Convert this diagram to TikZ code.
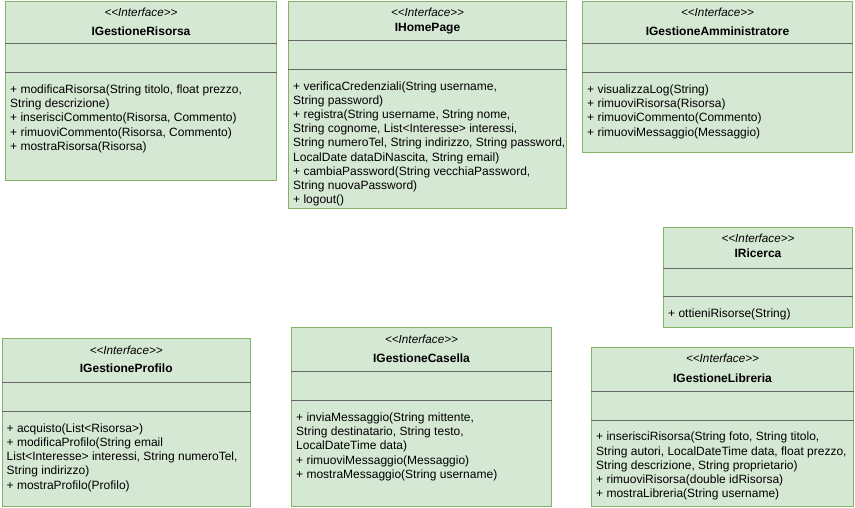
\documentclass[tikz,border=0pt]{standalone}
\usepackage{fontspec}
\setmainfont{Liberation Sans}[Ligatures=TeXOff]
\definecolor{boxfill}{HTML}{D5E8D4}
\definecolor{boxline}{HTML}{82B366}
\definecolor{sepcol}{HTML}{666666}
\begin{document}
\begin{tikzpicture}[x=1pt,y=-1pt,
  umlbox/.style={draw=boxline, fill=boxfill, line width=1pt, inner sep=0pt, anchor=north west},
  sepline/.style={draw=sepcol, line width=1pt},
  stereo/.style={font=\fontsize{11.7}{14}\selectfont\itshape, anchor=base, inner sep=0pt},
  ttl/.style={font=\fontsize{12}{14}\selectfont\bfseries, anchor=base, inner sep=0pt},
  methods/.style={font=\fontsize{12}{14.2}\selectfont, align=left, anchor=north west, inner sep=0pt}]
\useasboundingbox (0,0) rectangle (855,508);

% IGestioneRisorsa
\node[umlbox, minimum width=271pt, minimum height=179pt] (r) at (5,1) {};
\draw[sepline] ([yshift=-43pt]r.north west) -- ([yshift=-43pt]r.north east);
\draw[sepline] ([yshift=-71.7pt]r.north west) -- ([yshift=-71.7pt]r.north east);
\node[stereo] (rs) at ([yshift=-16pt]r.north) {<\kern0pt<Interface>\kern0pt>};
\node[ttl] (rt) at ([yshift=-35pt]r.north) {IGestioneRisorsa};
\node[methods] (rm) at ([xshift=5pt,yshift=-82.3pt]r.north west) {\strut+ modificaRisorsa(String titolo, float prezzo,\\String descrizione)\\+ inserisciCommento(Risorsa, Commento)\\+ rimuoviCommento(Risorsa, Commento)\\+ mostraRisorsa(Risorsa)};

% IHomePage
\node[umlbox, minimum width=278pt, minimum height=207pt] (hp) at (288,1) {};
\draw[sepline] ([yshift=-40pt]hp.north west) -- ([yshift=-40pt]hp.north east);
\draw[sepline] ([yshift=-68.3pt]hp.north west) -- ([yshift=-68.3pt]hp.north east);
\node[stereo] (hps) at ([yshift=-16pt]hp.north) {<\kern0pt<Interface>\kern0pt>};
\node[ttl] (hpt) at ([yshift=-31pt]hp.north) {IHomePage};
\node[methods] (hpm) at ([xshift=5pt,yshift=-79pt]hp.north west) {\strut+ verificaCredenziali(String username,\\String password)\\+ registra(String username, String nome,\\String cognome, List<Interesse> interessi,\\String numeroTel, String indirizzo, String password,\\LocalDate dataDiNascita, String email)\\+ cambiaPassword(String vecchiaPassword,\\String nuovaPassword)\\+ logout()};

% IGestioneAmministratore
\node[umlbox, minimum width=270pt, minimum height=151pt] (ga) at (582,1) {};
\draw[sepline] ([yshift=-43pt]ga.north west) -- ([yshift=-43pt]ga.north east);
\draw[sepline] ([yshift=-71.7pt]ga.north west) -- ([yshift=-71.7pt]ga.north east);
\node[stereo] (gas) at ([yshift=-16pt]ga.north) {<\kern0pt<Interface>\kern0pt>};
\node[ttl] (gat) at ([yshift=-35pt]ga.north) {IGestioneAmministratore};
\node[methods] (gam) at ([xshift=5pt,yshift=-82.3pt]ga.north west) {\strut+ visualizzaLog(String)\\+ rimuoviRisorsa(Risorsa)\\+ rimuoviCommento(Commento)\\+ rimuoviMessaggio(Messaggio)};

% IRicerca
\node[umlbox, minimum width=189pt, minimum height=100pt] (ri) at (663,227) {};
\draw[sepline] ([yshift=-41pt]ri.north west) -- ([yshift=-41pt]ri.north east);
\draw[sepline] ([yshift=-69.5pt]ri.north west) -- ([yshift=-69.5pt]ri.north east);
\node[stereo] (ris) at ([yshift=-16pt]ri.north) {<\kern0pt<Interface>\kern0pt>};
\node[ttl] (rit) at ([yshift=-31pt]ri.north) {IRicerca};
\node[methods] (rim) at ([xshift=5pt,yshift=-80pt]ri.north west) {\strut+ ottieniRisorse(String)};

% IGestioneProfilo
\node[umlbox, minimum width=248.5pt, minimum height=168pt] (gp) at (1.5,338) {};
\draw[sepline] ([yshift=-44.7pt]gp.north west) -- ([yshift=-44.7pt]gp.north east);
\draw[sepline] ([yshift=-73.5pt]gp.north west) -- ([yshift=-73.5pt]gp.north east);
\node[stereo] (gps) at ([yshift=-16pt]gp.north) {<\kern0pt<Interface>\kern0pt>};
\node[ttl] (gpt) at ([yshift=-34.3pt]gp.north) {IGestioneProfilo};
\node[methods] (gpm) at ([xshift=5pt,yshift=-84.2pt]gp.north west) {\strut+ acquisto(List<Risorsa>)\\+ modificaProfilo(String email\\List<Interesse> interessi, String numeroTel,\\String indirizzo)\\+ mostraProfilo(Profilo)};

% IGestioneCasella
\node[umlbox, minimum width=260pt, minimum height=179pt] (gc) at (291,327) {};
\draw[sepline] ([yshift=-44.7pt]gc.north west) -- ([yshift=-44.7pt]gc.north east);
\draw[sepline] ([yshift=-73.7pt]gc.north west) -- ([yshift=-73.7pt]gc.north east);
\node[stereo] (gcs) at ([yshift=-16.3pt]gc.north) {<\kern0pt<Interface>\kern0pt>};
\node[ttl] (gct) at ([yshift=-35.3pt]gc.north) {IGestioneCasella};
\node[methods] (gcm) at ([xshift=5pt,yshift=-84.4pt]gc.north west) {\strut+ inviaMessaggio(String mittente,\\String destinatario, String testo,\\LocalDateTime data)\\+ rimuoviMessaggio(Messaggio)\\+ mostraMessaggio(String username)};

% IGestioneLibreria
\node[umlbox, minimum width=262pt, minimum height=159pt] (gl) at (591,347) {};
\draw[sepline] ([yshift=-44.7pt]gl.north west) -- ([yshift=-44.7pt]gl.north east);
\draw[sepline] ([yshift=-73pt]gl.north west) -- ([yshift=-73pt]gl.north east);
\node[stereo] (gls) at ([yshift=-15pt]gl.north) {<\kern0pt<Interface>\kern0pt>};
\node[ttl] (glt) at ([yshift=-35.3pt]gl.north) {IGestioneLibreria};
\node[methods] (glm) at ([xshift=5pt,yshift=-83.7pt]gl.north west) {\strut+ inserisciRisorsa(String foto, String titolo,\\String autori, LocalDateTime data, float prezzo,\\String descrizione, String proprietario)\\+ rimuoviRisorsa(double idRisorsa)\\+ mostraLibreria(String username)};
\end{tikzpicture}
\end{document}
